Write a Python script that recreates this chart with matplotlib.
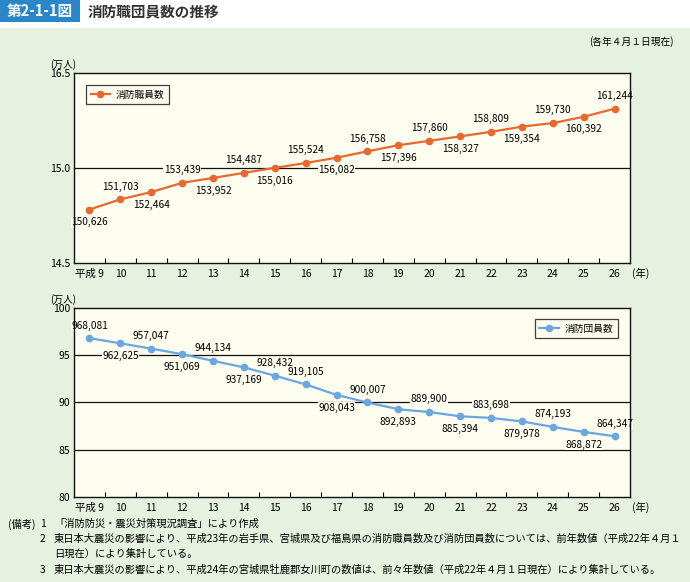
import matplotlib
matplotlib.use('Agg')
import matplotlib.pyplot as plt
from matplotlib.patches import Rectangle

plt.rcParams['font.family'] = ['Noto Sans CJK JP', 'DejaVu Sans']

# data (persons, each April 1st)
years = ['平成 9', '10', '11', '12', '13', '14', '15', '16', '17',
         '18', '19', '20', '21', '22', '23', '24', '25', '26']
staff = [150626, 151703, 152464, 153439, 153952, 154487, 155016, 155524, 156082,
         156758, 157396, 157860, 158327, 158809, 159354, 159730, 160392, 161244]
corps = [968081, 962625, 957047, 951069, 944134, 937169, 928432, 919105, 908043,
         900007, 892893, 889900, 885394, 883698, 879978, 874193, 868872, 864347]
# label above (True) or below (False) the point
staff_up = [False, True] * 9
corps_up = [True, False, True, False, True, False, True, True, False,
            True, False, True, False, True, False, True, False, True]

W, H = 690, 582
GREEN = '#e6f1e0'
CREAM = '#fdfdf0'
ORANGE = '#e8692d'
BLUE = '#6ca6de'

fig = plt.figure(figsize=(W / 100, H / 100), dpi=100)
fig.patch.set_facecolor('white')

def px(x, y):
    return x / W, 1 - y / H

# green panel and header
fig.add_artist(Rectangle((0, 0), 1, 1 - 28 / H, transform=fig.transFigure,
                         facecolor=GREEN, edgecolor='none', zorder=0))
fig.add_artist(Rectangle(px(0, 22), 80 / W, 22 / H, transform=fig.transFigure,
                         facecolor='#2a86c6', edgecolor='none', zorder=1))
fig.text(*px(40, 11), '第2-1-1図', color='white', fontsize=10.5, fontweight='bold',
         ha='center', va='center')
fig.text(*px(88, 11), '消防職団員数の推移', color='#333333', fontsize=10.5,
         fontweight='bold', ha='left', va='center')
fig.text(*px(674, 42), '(各年４月１日現在)', fontsize=7, ha='right', va='center')


def make_axes(top, bottom):
    l, b = px(74, bottom)
    h = bottom - top
    ax = fig.add_axes([l, b, (630 - 74) / W, h / H])
    ax.set_facecolor(CREAM)
    for s in ax.spines.values():
        s.set_linewidth(1.0)
        s.set_color('#111111')
    ax.set_xlim(-0.5, len(years) - 0.5)
    ax.set_xticks(range(len(years)))
    ax.set_xticklabels(years, fontsize=7.5)
    ax.set_xticks([i + 0.5 for i in range(len(years) - 1)], minor=True)
    ax.tick_params(axis='x', which='major', length=0, pad=4)
    ax.tick_params(axis='x', which='minor', direction='in', length=3.5, width=0.8)
    ax.tick_params(axis='y', length=0, labelsize=7.5, pad=3)
    ax.text(1.003, -10 / h, '(年)', transform=ax.transAxes, fontsize=7.5,
            ha='left', va='center')
    ax.text(-24 / 556, 1 + 3 / h, '(万人)', transform=ax.transAxes, fontsize=7,
            ha='left', va='bottom')
    return ax


def annotate(ax, vals, ups):
    for i, (v, up) in enumerate(zip(vals, ups)):
        ax.annotate(f'{v:,}', (i, v / 10000), xytext=(0, 5.5 if up else -5.5),
                    textcoords='offset points', ha='center',
                    va='bottom' if up else 'top', fontsize=7.3, zorder=2.5,
                    bbox=dict(fc=CREAM, ec='none', pad=0.3))


def legend(ax, loc, anchor):
    leg = ax.legend(loc=loc, bbox_to_anchor=anchor, fontsize=7,
                    frameon=True, fancybox=False, borderpad=0.45,
                    handlelength=2.0, handletextpad=0.6, borderaxespad=0)
    leg.get_frame().set_edgecolor('#111111')
    leg.get_frame().set_facecolor(CREAM)
    leg.get_frame().set_linewidth(0.9)


# top: fire department staff
ax1 = make_axes(73, 263)
ax1.set_ylim(14.5, 16.5)
ax1.set_yticks([14.5, 15.5, 16.5])
ax1.set_yticklabels(['14.5', '15.0', '16.5'])
ax1.axhline(15.5, color='#111111', lw=0.9, zorder=1)
ax1.plot(range(len(years)), [v / 10000 for v in staff], '-o', color=ORANGE,
         lw=1.6, ms=4.5, zorder=3, label='消防職員数')
annotate(ax1, staff, staff_up)
legend(ax1, 'upper left', (0.022, 0.935))

# bottom: volunteer fire corps
ax2 = make_axes(308, 497)
ax2.set_ylim(80, 100)
ax2.set_yticks([80, 85, 90, 95, 100])
for g in [85, 90, 95]:
    ax2.axhline(g, color='#111111', lw=0.9, zorder=1)
ax2.plot(range(len(years)), [v / 10000 for v in corps], '-o', color=BLUE,
         lw=1.6, ms=4.5, zorder=3, label='消防団員数')
annotate(ax2, corps, corps_up)
legend(ax2, 'upper right', (0.978, 0.94))

# notes
fs = 7.4
fig.text(*px(8, 524), '(備考)', fontsize=fs, va='center')
fig.text(*px(40, 524), '1', fontsize=fs, va='center')
fig.text(*px(54, 524), '「消防防災・震災対策現況調査」により作成', fontsize=fs, va='center')
fig.text(*px(40, 539), '2', fontsize=fs, va='center')
fig.text(*px(54, 539), '東日本大震災の影響により、平成23年の岩手県、宮城県及び福島県の消防職員数及び消防団員数については、前年数値（平成22年４月１',
         fontsize=fs, va='center')
fig.text(*px(54, 554), '日現在）により集計している。', fontsize=fs, va='center')
fig.text(*px(40, 570), '3', fontsize=fs, va='center')
fig.text(*px(54, 570), '東日本大震災の影響により、平成24年の宮城県牡鹿郡女川町の数値は、前々年数値（平成22年４月１日現在）により集計している。',
         fontsize=fs, va='center')

fig.savefig('out.png', dpi=100, facecolor=fig.get_facecolor())
